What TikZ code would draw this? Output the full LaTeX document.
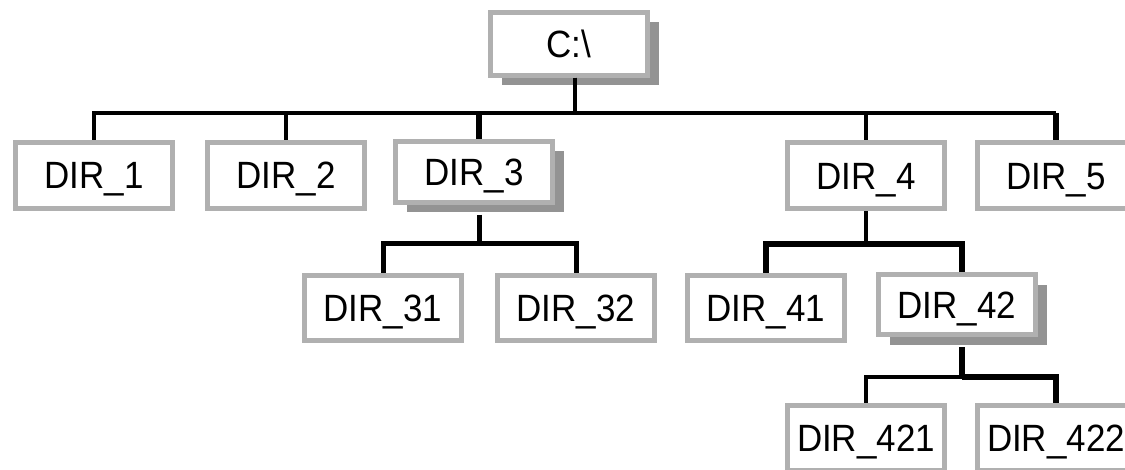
\documentclass[tikz,border=0pt]{standalone}
\usepackage{fontspec}
\setmainfont{Liberation Sans}[FakeStretch=0.92]
\usetikzlibrary{shadows}
\definecolor{boxgray}{RGB}{176,176,176}
\definecolor{shadowgray}{RGB}{147,147,147}
\tikzset{
  dirbox/.style={draw=boxgray, line width=5pt, fill=white, inner sep=0pt,
    minimum width=157pt, minimum height=66pt, text height=27pt, text depth=0pt,
    font=\fontsize{38}{40}\selectfont},
  shadowbox/.style={dirbox, drop shadow={shadow xshift=11pt, shadow yshift=-10pt,
    fill=shadowgray, opacity=1}},
  conn/.style={line width=4pt, line join=miter, draw=black},
  thickconn/.style={line width=6.5pt, line join=miter, draw=black}
}
\begin{document}
\begin{tikzpicture}[x=1pt,y=-1pt]
\useasboundingbox[fill=white] (0,0) rectangle (1125,470);
% level bars
\coordinate (bar0) at (0,113);
\coordinate (bar3) at (0,244);
\coordinate (bar4) at (0,244);
\coordinate (bar42) at (0,377);

\node[shadowbox, minimum height=63pt] (C) at (569,44) {C:\textbackslash};

\node[dirbox] (D1) at (94,175.5) {DIR\_1};
\node[dirbox] (D2) at (286,175.5) {DIR\_2};
\node[shadowbox, minimum height=61pt] (D3) at (474,172) {DIR\_3};
\node[dirbox] (D4) at (866,176) {DIR\_4};
\node[dirbox] (D5) at (1056,176) {DIR\_5};

\node[dirbox, minimum height=65pt] (D31) at (383,308) {DIR\_31};
\node[dirbox, minimum height=65pt] (D32) at (576,308) {DIR\_32};
\node[dirbox, minimum height=65pt] (D41) at (766,308) {DIR\_41};
\node[shadowbox, minimum height=60pt] (D42) at (957,305) {DIR\_42};

\node[dirbox, minimum height=65pt] (D421) at (866,438) {DIR\_421};
\node[dirbox, minimum height=65pt] (D422) at (1056,438) {DIR\_422};

% connectors from C:\
\draw[conn] ([xshift=6pt]C.south) |- (D1.north |- bar0) -- (D1.north);
\draw[conn] ([xshift=6pt]C.south) |- (D2.north |- bar0) -- (D2.north);
\draw[conn] ([xshift=6pt]C.south) |- (D4.north |- bar0) -- (D4.north);
\draw[conn] ([xshift=6pt]C.south) |- ([xshift=5pt]D3.north |- bar0);
\draw[conn] ([xshift=6pt]C.south) |- (D5.north |- bar0);
\draw[thickconn] ([xshift=5pt]D3.north |- bar0) -- ([xshift=5pt]D3.north);
\draw[thickconn] (D5.north |- bar0) -- (D5.north);

% connectors from DIR_3
\draw[conn, line width=5pt] ([xshift=5pt,yshift=-10pt]D3.south) |- (D31.north |- bar3) -- (D31.north);
\draw[conn, line width=5pt] ([xshift=5pt,yshift=-10pt]D3.south) |- (D32.north |- bar3) -- (D32.north);

% connectors from DIR_4
\draw[conn] (D4.south) -- (D4.south |- bar4);
\draw[thickconn] (D4.south |- bar4) -| (D41.north);
\draw[thickconn] (D4.south |- bar4) -| ([xshift=5pt]D42.north);

% connectors from DIR_42
\draw[conn, line width=6pt] ([xshift=5pt,yshift=-10pt]D42.south) -- ([xshift=5pt]D42.south |- bar42);
\draw[conn] ([xshift=5pt]D42.south |- bar42) -| (D421.north);
\draw[thickconn] ([xshift=5pt]D42.south |- bar42) -| (D422.north);
\end{tikzpicture}
\end{document}
